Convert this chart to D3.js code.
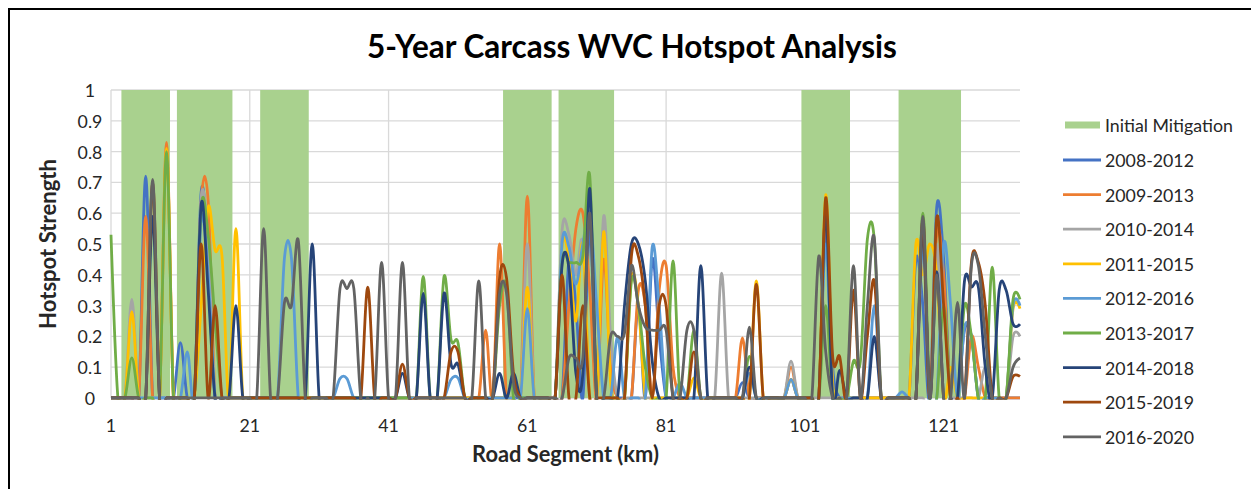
<!DOCTYPE html>
<html>
<head>
<meta charset="utf-8">
<script src="https://cdn.jsdelivr.net/npm/d3@7"></script>
<style>
  body { margin: 0; background: #fff; }
  svg { display: block; font-family: Lato, "Open Sans", sans-serif; }
</style>
</head>
<body>
<svg id="chart" width="1251" height="489"></svg>
<script>
// ---- data ----
const segmentCount = 132;
const yTickValues = [0, 0.1, 0.2, 0.3, 0.4, 0.5, 0.6, 0.7, 0.8, 0.9, 1];
const yTickLabels = ["0", "0.1", "0.2", "0.3", "0.4", "0.5", "0.6", "0.7", "0.8", "0.9", "1"];
const xTickValues = [1, 21, 41, 61, 81, 101, 121];

// road segments covered by the initial mitigation (inclusive ranges)
const mitigationRanges = [[3, 9], [11, 18], [23, 29], [58, 64], [66, 73], [101, 107], [115, 123]];

const periods = ["2008-2012", "2009-2013", "2010-2014", "2011-2015", "2012-2016",
                 "2013-2017", "2014-2018", "2015-2019", "2016-2020"];
const periodColors = ["#4472C4", "#ED7D31", "#A5A5A5", "#FFC000", "#5B9BD5",
                      "#70AD47", "#264478", "#9E480E", "#636363"];

// hotspot strength per road segment as [segment, strength]; unlisted segments are 0
const s2008_2012 = [[6,0.72],[11,0.18],[14,0.67],[15,0.45],[67,0.45],[68,0.3],[70,0.55],[77,0.3],[79,0.45],[80,0.2],[92,0.05],[99,0.06],[104,0.55],[105,0.1],[117,0.45],[118,0.3],[120,0.62],[121,0.45],[124,0.22],[125,0.2]];
const s2009_2013 = [[6,0.59],[9,0.83],[14,0.64],[15,0.64],[55,0.22],[57,0.50],[61,0.655],[67,0.3],[68,0.55],[69,0.6],[70,0.35],[72,0.45],[73,0.1],[77,0.35],[78,0.3],[80,0.35],[81,0.43],[82,0.1],[92,0.195],[99,0.10],[104,0.6],[118,0.53],[120,0.53],[121,0.4],[125,0.2],[126,0.1]];
const s2010_2014 = [[4,0.32],[14,0.65],[15,0.5],[61,0.50],[66,0.54],[67,0.53],[68,0.4],[69,0.5],[72,0.59],[73,0.2],[89,0.405],[99,0.12],[120,0.5],[127,0.1],[131,0.2],[132,0.2]];
const s2011_2015 = [[4,0.28],[9,0.81],[14,0.3],[15,0.62],[16,0.48],[17,0.46],[19,0.55],[61,0.36],[66,0.49],[67,0.45],[68,0.25],[69,0.5],[72,0.54],[73,0.05],[76,0.39],[77,0.3],[85,0.065],[94,0.38],[99,0.06],[104,0.66],[105,0.05],[117,0.5],[118,0.4],[119,0.5],[120,0.4],[122,0.1],[131,0.29],[132,0.29]];
const s2012_2016 = [[12,0.15],[14,0.58],[15,0.4],[26,0.455],[27,0.455],[34,0.063],[35,0.063],[50,0.06],[51,0.065],[61,0.29],[66,0.5],[67,0.49],[68,0.37],[69,0.5],[70,0.6],[71,0.3],[74,0.2],[79,0.49],[80,0.3],[83,0.05],[93,0.08],[99,0.06],[104,0.5],[111,0.3],[115,0.02],[118,0.5],[121,0.5],[122,0.3],[124,0.23],[125,0.2],[131,0.3],[132,0.3]];
const s2013_2017 = [[1,0.53],[4,0.13],[9,0.80],[14,0.62],[15,0.53],[16,0.25],[46,0.395],[49,0.395],[50,0.19],[51,0.18],[57,0.3],[58,0.36],[66,0.44],[67,0.44],[68,0.44],[69,0.46],[70,0.72],[76,0.38],[77,0.3],[78,0.1],[82,0.445],[85,0.22],[93,0.135],[104,0.3],[108,0.12],[109,0.12],[110,0.515],[111,0.515],[118,0.6],[121,0.3],[124,0.3],[125,0.2],[128,0.425],[131,0.32],[132,0.32]];
const s2014_2018 = [[7,0.59],[14,0.63],[15,0.35],[19,0.30],[30,0.50],[43,0.08],[46,0.34],[49,0.34],[50,0.11],[51,0.11],[57,0.08],[59,0.08],[66,0.43],[67,0.42],[68,0.08],[69,0.08],[70,0.68],[75,0.3],[76,0.5],[77,0.5],[78,0.38],[79,0.12],[86,0.43],[93,0.10],[104,0.6],[106,0.09],[111,0.2],[118,0.55],[120,0.41],[124,0.38],[125,0.36],[126,0.36],[127,0.1],[129,0.35],[130,0.35],[131,0.24],[132,0.24]];
const s2015_2019 = [[7,0.70],[14,0.50],[16,0.30],[38,0.36],[43,0.11],[50,0.15],[51,0.15],[57,0.39],[58,0.39],[59,0.08],[66,0.40],[69,0.3],[76,0.46],[77,0.46],[78,0.3],[80,0.3],[81,0.3],[85,0.15],[94,0.37],[104,0.65],[105,0.135],[106,0.135],[108,0.35],[110,0.2],[111,0.38],[118,0.58],[120,0.585],[121,0.3],[125,0.44],[126,0.44],[127,0.3],[131,0.07],[132,0.07]];
const s2016_2020 = [[7,0.71],[23,0.55],[26,0.31],[27,0.30],[28,0.51],[34,0.355],[35,0.355],[36,0.355],[40,0.44],[43,0.44],[54,0.38],[57,0.34],[58,0.34],[59,0.05],[67,0.13],[68,0.13],[69,0.13],[70,0.6],[73,0.2],[74,0.2],[75,0.21],[76,0.43],[77,0.3],[78,0.23],[79,0.22],[80,0.22],[81,0.22],[84,0.22],[85,0.22],[93,0.23],[103,0.46],[104,0.15],[108,0.43],[110,0.3],[111,0.52],[118,0.59],[120,0.4],[123,0.31],[125,0.43],[126,0.43],[127,0.2],[131,0.1],[132,0.13]];

const seriesPoints = [s2008_2012, s2009_2013, s2010_2014, s2011_2015, s2012_2016,
                      s2013_2017, s2014_2018, s2015_2019, s2016_2020];

// ---- layout ----
const svg = d3.select("#chart");
const plot = { left: 111, right: 1020, top: 90, bottom: 398 };

const x = d3.scaleLinear().domain([1, segmentCount]).range([plot.left, plot.right]);
const y = d3.scaleLinear().domain([0, 1]).range([plot.bottom, plot.top]);

// chart frame
svg.append("rect")
  .attr("x", 9).attr("y", 9).attr("width", 1260).attr("height", 500)
  .attr("fill", "#fff").attr("stroke", "#000").attr("stroke-width", 2);

// gridlines
const grid = svg.append("g").attr("stroke", "#d9d9d9").attr("stroke-width", 1.3);
grid.selectAll("line.h").data(yTickValues).join("line")
  .attr("x1", plot.left).attr("x2", plot.right)
  .attr("y1", d => y(d)).attr("y2", d => y(d));
grid.selectAll("line.v").data(xTickValues).join("line")
  .attr("x1", d => x(d)).attr("x2", d => x(d))
  .attr("y1", plot.top).attr("y2", plot.bottom);

// mitigation columns
svg.append("g").selectAll("rect").data(mitigationRanges).join("rect")
  .attr("x", d => x(d[0] - 0.5))
  .attr("width", d => x(d[1] + 0.5) - x(d[0] - 0.5))
  .attr("y", y(1))
  .attr("height", y(0) - y(1))
  .attr("fill", "#A9D18E");

// smoothed hotspot lines
svg.append("clipPath").attr("id", "plotClip").append("rect")
  .attr("x", plot.left - 2).attr("y", plot.top - 2)
  .attr("width", plot.right - plot.left + 4).attr("height", plot.bottom - plot.top + 3.5);

const segments = d3.range(1, segmentCount + 1);
const line = d3.line()
  .x(d => x(d.seg))
  .y(d => y(d.v))
  .curve(d3.curveCardinal.tension(0));

const lines = svg.append("g").attr("clip-path", "url(#plotClip)");
seriesPoints.forEach((pts, i) => {
  const lookup = new Map(pts);
  const data = segments.map(s => ({ seg: s, v: lookup.has(s) ? lookup.get(s) : 0 }));
  lines.append("path")
    .datum(data)
    .attr("d", line)
    .attr("fill", "none")
    .attr("stroke", periodColors[i])
    .attr("stroke-width", 2.8)
    .attr("stroke-linejoin", "round");
});

// text helpers
function fitWidth(sel, base, target) {
  sel.attr("font-size", base);
  const w = sel.node().getComputedTextLength();
  const size = base * target / w;
  sel.attr("font-size", size);
  return size;
}

// legend font size, taken from the mitigation entry width
const legend = svg.append("g").attr("fill", "#262626");
legend.append("rect")
  .attr("x", 1065).attr("y", 121.5).attr("width", 35).attr("height", 7)
  .attr("fill", "#A9D18E");
const mitLabel = legend.append("text")
  .attr("x", 1105).attr("y", 125).attr("dominant-baseline", "central")
  .text("Initial Mitigation");
const labelFont = fitWidth(mitLabel, 16, 128);

periods.forEach((p, i) => {
  const ly = 160 + i * 34.6;
  legend.append("line")
    .attr("x1", 1063).attr("x2", 1101).attr("y1", ly).attr("y2", ly)
    .attr("stroke", periodColors[i]).attr("stroke-width", 2.8);
  legend.append("text")
    .attr("x", 1105).attr("y", ly).attr("dominant-baseline", "central")
    .attr("font-size", labelFont)
    .text(p);
});

// axis tick labels
const axisText = svg.append("g").attr("fill", "#262626");
axisText.selectAll("text.y").data(yTickValues).join("text")
  .attr("class", "y")
  .attr("x", 90).attr("y", d => y(d))
  .attr("text-anchor", "middle").attr("dominant-baseline", "central")
  .attr("font-size", labelFont)
  .text((d, i) => yTickLabels[i]);
axisText.selectAll("text.x").data(xTickValues).join("text")
  .attr("class", "x")
  .attr("x", d => x(d)).attr("y", 425)
  .attr("text-anchor", "middle").attr("dominant-baseline", "central")
  .attr("font-size", labelFont)
  .text(d => d);

// titles
const title = svg.append("text")
  .attr("x", 632).attr("y", 58)
  .attr("text-anchor", "middle").attr("font-weight", "bold")
  .attr("fill", "#000")
  .text("5-Year Carcass WVC Hotspot Analysis");
fitWidth(title, 30, 530);

const xTitle = svg.append("text")
  .attr("x", (plot.left + plot.right) / 2).attr("y", 462)
  .attr("text-anchor", "middle").attr("font-weight", "bold")
  .attr("fill", "#262626")
  .text("Road Segment (km)");
fitWidth(xTitle, 18, 187);

const yTitle = svg.append("text")
  .attr("transform", `translate(56,${(plot.top + plot.bottom) / 2}) rotate(-90)`)
  .attr("text-anchor", "middle").attr("font-weight", "bold")
  .attr("fill", "#262626")
  .text("Hotspot Strength");
fitWidth(yTitle, 18, 170);
</script>
</body>
</html>
